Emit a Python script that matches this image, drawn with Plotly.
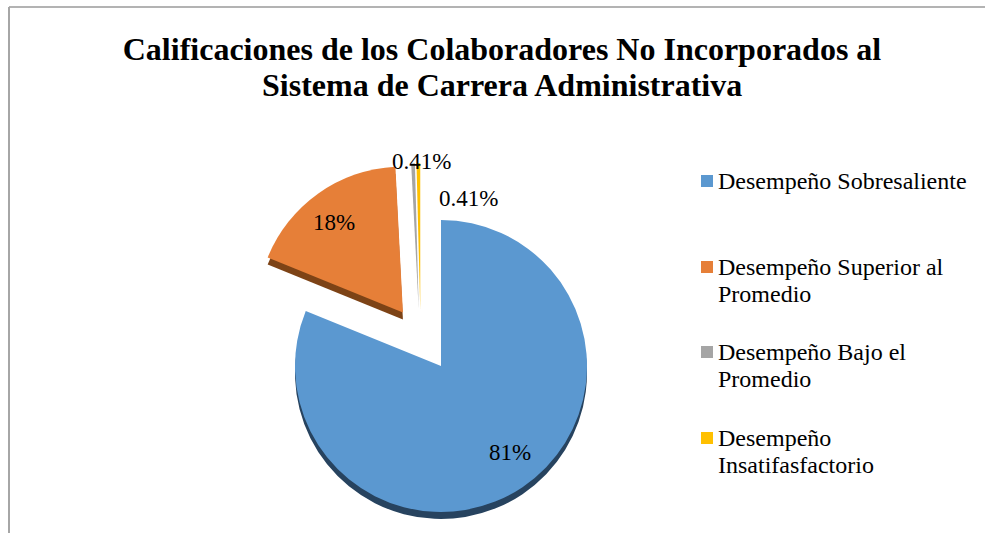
"""Pie chart: calificaciones de los colaboradores no incorporados."""

import plotly.graph_objects as go

LABELS = [
    "Desempeño Sobresaliente",
    "Desempeño Superior al Promedio",
    "Desempeño Bajo el Promedio",
    "Desempeño Insatifasfactorio",
]
VALUES = [81, 18, 0.41, 0.41]
VALUE_TEXT = ["81%", "18%", "0.41%", "0.41%"]
PULLS = [0, 0.45, 0.41, 0.41]
COLORS = ["#5b98d0", "#e67f38", "#a5a5a5", "#ffc000"]
SIDE_COLORS = ["#27435f", "#7d4316", "rgba(0,0,0,0)", "rgba(0,0,0,0)"]
BIG_COLORS = ["#5b98d0", "#e67f38", "rgba(0,0,0,0)", "rgba(0,0,0,0)"]
SMALL_COLORS = ["rgba(0,0,0,0)", "rgba(0,0,0,0)", "#a5a5a5", "#ffc000"]

TITLE_LINES = [
    "Calificaciones de los Colaboradores No Incorporados al",
    "Sistema de Carrera Administrativa",
]
# legend text as wrapped in the original
LEGEND_LINES = [
    ["Desempeño Sobresaliente"],
    ["Desempeño Superior al", "Promedio"],
    ["Desempeño Bajo el", "Promedio"],
    ["Desempeño", "Insatifasfactorio"],
]

# pixel placement of the hand-set text
LABEL_POS = [(510, 452), (334, 222), (421, 161), (468, 198)]
LEGEND_Y = [181, 267, 352, 438]
LINE_GAP = 27

W, H = 985, 600
SERIF = "Liberation Serif, Times New Roman, serif"


def px(x):
    return x / W


def py(y):
    return 1 - y / H


def pie_domain(cx, cy, r, max_pull):
    half = r * (1 + max_pull)
    return dict(x=[px(cx - half), px(cx + half)], y=[py(cy + half), py(cy - half)])


def pie_layer(colors, cx, cy, **kwargs):
    return go.Pie(
        labels=LABELS, values=VALUES, pull=PULLS, sort=False, direction="clockwise",
        rotation=0, textinfo="none",
        marker=dict(colors=colors, line=dict(width=0)),
        domain=pie_domain(cx, cy, 146, max(PULLS)),
        **kwargs,
    )


fig = go.Figure()
# darker copy underneath gives the 3D edge
fig.add_trace(pie_layer(SIDE_COLORS, 441, 373, hoverinfo="skip"))
fig.add_trace(pie_layer(BIG_COLORS, 441, 366))
# the two thin slices sit further left than a radial pull would put them
fig.add_trace(pie_layer(SMALL_COLORS, 421, 369))

annotations = []
for text, (x, y) in zip(VALUE_TEXT, LABEL_POS):
    annotations.append(dict(
        text=text, x=px(x), y=py(y), xref="paper", yref="paper", showarrow=False,
        yanchor="middle",
        font=dict(family=SERIF, size=23, color="#000000"),
    ))

annotations.append(dict(
    text=TITLE_LINES[1], x=px(502), y=py(85), xref="paper", yref="paper", showarrow=False,
    yanchor="middle",
    font=dict(family=SERIF, size=32, color="#000000", weight="bold"),
))

shapes = [
    dict(type="line", xref="paper", yref="paper", x0=px(9), x1=1, y0=py(7), y1=py(7),
         line=dict(color="#9a9a9a", width=1.5)),
    dict(type="line", xref="paper", yref="paper", x0=px(9), x1=px(9), y0=0, y1=py(7),
         line=dict(color="#a6a6a6", width=2)),
]
for lines, y, color in zip(LEGEND_LINES, LEGEND_Y, COLORS):
    shapes.append(dict(
        type="rect", xref="paper", yref="paper", x0=px(701), x1=px(713), y0=py(y + 6), y1=py(y - 6),
        fillcolor=color, line=dict(width=0),
    ))
    for i, line in enumerate(lines):
        annotations.append(dict(
            text=line, x=px(716), y=py(y + i * LINE_GAP), xref="paper", yref="paper",
            xanchor="left", yanchor="middle", showarrow=False,
            font=dict(family=SERIF, size=24, color="#000000"),
        ))

fig.update_layout(
    width=W, height=H,
    paper_bgcolor="#ffffff",
    margin=dict(l=0, r=0, t=0, b=0, autoexpand=False),
    font=dict(family=SERIF, color="#000000"),
    title=dict(
        text=TITLE_LINES[0], x=px(502), xanchor="center", y=py(49), yanchor="middle",
        font=dict(family=SERIF, size=32, color="#000000", weight="bold"),
    ),
    showlegend=False,
    annotations=annotations,
    shapes=shapes,
)

# the chart runs past the bottom of the window, as the cropped original does
fig.write_html(
    "out.html",
    config={"displayModeBar": False},
    post_script="document.body.style.margin='0';document.documentElement.style.overflow='hidden';",
)
